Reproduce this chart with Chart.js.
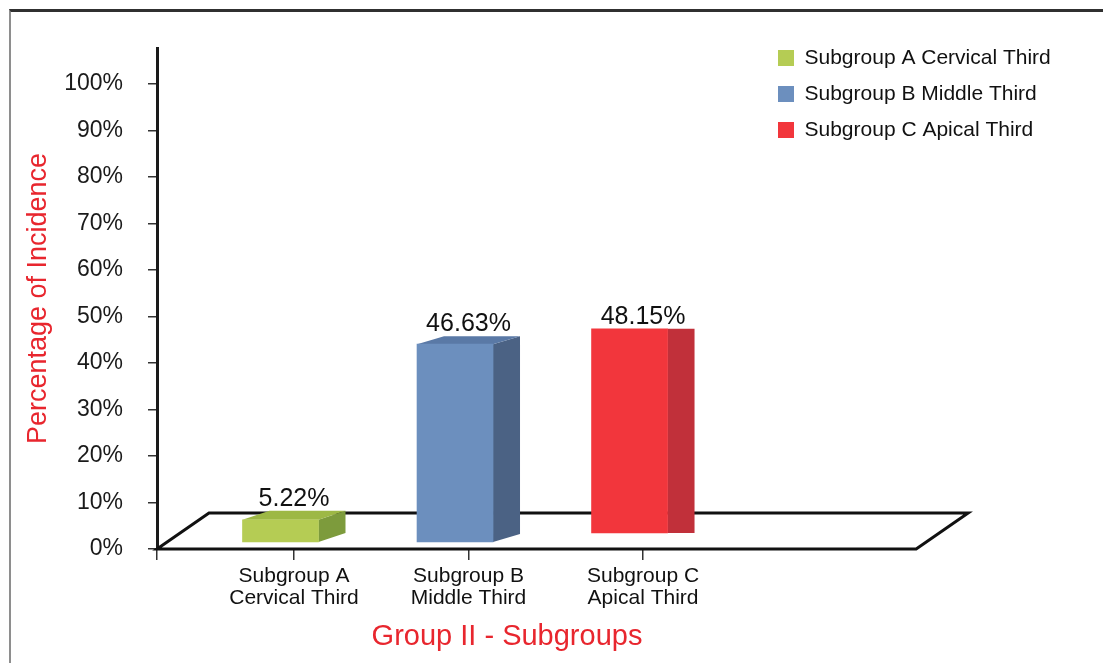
<!DOCTYPE html>
<html lang="en">
<head>
<meta charset="UTF-8">
<title>Group II - Subgroups</title>
<script src="https://cdn.jsdelivr.net/npm/chart.js@4"></script>
<style>
  body { margin: 0; background: #fff; }
  .chartBox { position: relative; width: 1103px; height: 663px; }
  .frame {
    position: absolute; left: 9px; top: 9px; right: 0; bottom: 0;
    border-top: 3px solid #303030; border-left: 2px solid #8e8e8e;
    pointer-events: none;
  }
</style>
</head>
<body>
<div class="chartBox">
  <canvas id="incidenceChart" width="1103" height="663"></canvas>
  <div class="frame"></div>
</div>
<script>
// Group II: percentage of incidence per subgroup
const legendNames = ['Subgroup A Cervical Third', 'Subgroup B Middle Third', 'Subgroup C Apical Third'];
const tickNames = [['Subgroup A', 'Cervical Third'], ['Subgroup B', 'Middle Third'], ['Subgroup C', 'Apical Third']];
const incidence = [5.22, 46.63, 48.15];
const yTicks = [0, 10, 20, 30, 40, 50, 60, 70, 80, 90, 100];

// box faces: front / side / top
const faces = [
  { front: '#b5cc54', side: '#7d9b3c', top: '#9db845' },
  { front: '#6c8fbe', side: '#4b6284', top: '#5a79a6' },
  { front: '#f2363c', side: '#c1303a', top: '#dd3339' }
];
const depthY = [-9, -8, 0];   // vertical slant of the box side
const lift = [0, 0, 9];       // how far back the box sits on the floor

const DEPTH_X = 27;
const FLOOR_END = 3.565;      // right end of the floor, x-axis units
const FLOOR_DX = 52, FLOOR_DY = -36;
const RED = '#e8262e';

Chart.defaults.font.family = '"Liberation Sans", Arial, sans-serif';
Chart.defaults.color = '#1a1a1a';

const datasets = incidence.map((v, i) => ({
  label: legendNames[i],
  data: [{ x: i, y: v }],
  backgroundColor: faces[i].front,
  borderWidth: 0,
  barThickness: 76,
  grouped: false,
  yAxisID: 'yb'
}));

// floor parallelogram + 3D sides, tops and value labels of the boxes
const box3d = {
  id: 'box3d',
  beforeDatasetsDraw(chart) {
    const { ctx } = chart;
    const xs = chart.scales.x, ys = chart.scales.y;
    const x0 = xs.getPixelForValue(xs.min);
    const x1 = xs.getPixelForValue(FLOOR_END);
    const y0 = ys.getPixelForValue(0);
    ctx.save();
    ctx.strokeStyle = '#111';
    ctx.lineWidth = 3;
    ctx.beginPath();
    ctx.moveTo(x0, y0);
    ctx.lineTo(x1, y0);
    ctx.lineTo(x1 + FLOOR_DX, y0 + FLOOR_DY);
    ctx.lineTo(x0 + FLOOR_DX, y0 + FLOOR_DY);
    ctx.closePath();
    ctx.stroke();
    ctx.restore();
  },
  beforeDatasetDraw(chart, args) {
    const i = args.index;
    const ctx = chart.ctx;
    ctx.save();
    ctx.translate(-DEPTH_X / 2, -lift[i]);
    args.meta.data.forEach(bar => {
      const { x, y, base, width } = bar.getProps(['x', 'y', 'base', 'width'], true);
      const l = x - width / 2, r = x + width / 2, dy = depthY[i];
      ctx.fillStyle = faces[i].side;
      ctx.beginPath();
      ctx.moveTo(r, y);
      ctx.lineTo(r + DEPTH_X, y + dy);
      ctx.lineTo(r + DEPTH_X, base + dy);
      ctx.lineTo(r, base);
      ctx.closePath();
      ctx.fill();
      ctx.fillStyle = faces[i].top;
      ctx.beginPath();
      ctx.moveTo(l, y);
      ctx.lineTo(r, y);
      ctx.lineTo(r + DEPTH_X, y + dy);
      ctx.lineTo(l + DEPTH_X, y + dy);
      ctx.closePath();
      ctx.fill();
    });
  },
  afterDatasetDraw(chart, args) {
    const i = args.index;
    const ctx = chart.ctx;
    args.meta.data.forEach(bar => {
      const { x, y } = bar.getProps(['x', 'y'], true);
      ctx.fillStyle = '#111';
      ctx.font = '25px "Liberation Sans", Arial, sans-serif';
      ctx.textAlign = 'center';
      ctx.textBaseline = 'alphabetic';
      ctx.fillText(incidence[i].toFixed(2) + '%', x + DEPTH_X / 2, y + Math.min(depthY[i], 0) - 5);
    });
    ctx.restore();
  }
};

// legend sits inside the plot, top right
const legendSpot = {
  id: 'legendSpot',
  afterLayout(chart) {
    const lg = chart.legend;
    const dx = 763 - lg.left, dy = 32.5 - lg.top;
    lg.left += dx; lg.right += dx;
    lg.top += dy; lg.bottom += dy;
  }
};

new Chart(document.getElementById('incidenceChart'), {
  type: 'bar',
  data: { datasets },
  options: {
    responsive: false,
    animation: false,
    layout: { padding: { left: 0, top: 48, right: 246, bottom: 0 } },
    plugins: {
      tooltip: { enabled: false },
      legend: {
        position: 'chartArea',
        align: 'start',
        labels: {
          boxWidth: 16,
          boxHeight: 16,
          padding: 15,
          color: '#111',
          font: { size: 21 }
        }
      }
    },
    scales: {
      x: {
        type: 'linear',
        offset: false,
        bounds: 'data',
        min: -0.785,
        max: 3.226,
        afterBuildTicks: s => { s.ticks = [{ value: s.min }].concat(tickNames.map((_, i) => ({ value: i }))); },
        afterFit: s => { s.height = 114; },
        border: { display: false },
        grid: { offset: false, drawOnChartArea: false, tickLength: 11, color: '#333', lineWidth: 1.5 },
        ticks: {
          autoSkip: false,
          maxRotation: 0,
          padding: 5,
          color: '#111',
          font: { size: 21, lineHeight: 1.05 },
          callback: v => (Number.isInteger(v) && tickNames[v]) ? tickNames[v] : ''
        },
        title: {
          display: true,
          text: 'Group II - Subgroups',
          color: RED,
          font: { size: 29 },
          padding: { top: 0, bottom: 9 }
        }
      },
      y: {
        min: 0,
        max: 107.7,
        afterBuildTicks: s => { s.ticks = yTicks.map(v => ({ value: v })); },
        afterFit: s => { s.width = 157; },
        border: { display: true, color: '#1a1a1a', width: 3 },
        grid: { drawOnChartArea: false, tickLength: 9, color: '#333', lineWidth: 1.5 },
        ticks: {
          padding: 25,
          color: '#1a1a1a',
          font: { size: 23 },
          callback: v => v + '%'
        },
        title: {
          display: true,
          text: 'Percentage of Incidence',
          color: RED,
          font: { size: 27 },
          padding: { top: 22, bottom: 0 }
        }
      },
      yb: {
        display: false,
        min: -1.65,
        max: 116.45
      }
    }
  },
  plugins: [box3d, legendSpot]
});
</script>
</body>
</html>
